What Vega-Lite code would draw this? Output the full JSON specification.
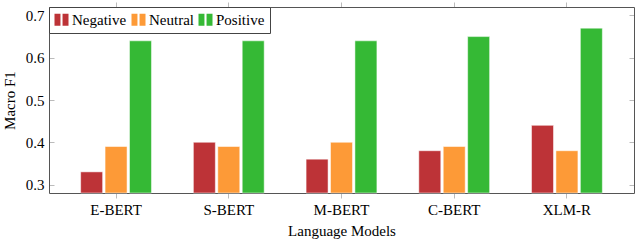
{
  "$schema": "https://vega.github.io/schema/vega-lite/v6.json",
  "width": 585,
  "height": 186,
  "autosize": {"type": "none"},
  "padding": {"left": 49, "top": 7, "right": 6, "bottom": 49},
  "background": "white",
  "config": {
    "view": {"stroke": null},
    "font": "DejaVu Serif",
    "axis": {
      "labelFont": "Times New Roman, Liberation Serif, serif",
      "titleFont": "Times New Roman, Liberation Serif, serif",
      "labelFontSize": 15,
      "titleFontSize": 15,
      "titleFontWeight": "normal",
      "labelFontWeight": "normal",
      "labelColor": "black",
      "titleColor": "black",
      "domainColor": "#555555",
      "domainWidth": 1,
      "tickColor": "#bbbbbb",
      "grid": false
    }
  },
  "data": {
    "values": [
      {"model": "E-BERT", "sentiment": "Negative", "f1": 0.33},
      {"model": "E-BERT", "sentiment": "Neutral", "f1": 0.39},
      {"model": "E-BERT", "sentiment": "Positive", "f1": 0.64},
      {"model": "S-BERT", "sentiment": "Negative", "f1": 0.40},
      {"model": "S-BERT", "sentiment": "Neutral", "f1": 0.39},
      {"model": "S-BERT", "sentiment": "Positive", "f1": 0.64},
      {"model": "M-BERT", "sentiment": "Negative", "f1": 0.36},
      {"model": "M-BERT", "sentiment": "Neutral", "f1": 0.40},
      {"model": "M-BERT", "sentiment": "Positive", "f1": 0.64},
      {"model": "C-BERT", "sentiment": "Negative", "f1": 0.38},
      {"model": "C-BERT", "sentiment": "Neutral", "f1": 0.39},
      {"model": "C-BERT", "sentiment": "Positive", "f1": 0.65},
      {"model": "XLM-R", "sentiment": "Negative", "f1": 0.44},
      {"model": "XLM-R", "sentiment": "Neutral", "f1": 0.38},
      {"model": "XLM-R", "sentiment": "Positive", "f1": 0.67}
    ]
  },
  "layer": [
    {
      "mark": {"type": "bar", "stroke": "white", "strokeOpacity": 0.5, "strokeWidth": 1},
      "encoding": {
        "x": {
          "field": "model", "type": "nominal", "sort": null,
          "scale": {"paddingInner": 0.35, "paddingOuter": 0.27},
          "axis": {"title": "Language Models", "labelAngle": 0, "tickSize": 5, "labelPadding": 4, "titlePadding": 6}
        },
        "xOffset": {
          "field": "sentiment", "type": "nominal",
          "scale": {"paddingInner": 0.1, "paddingOuter": 0.05}
        },
        "y": {
          "field": "f1", "type": "quantitative",
          "scale": {"domain": [0.28, 0.72], "zero": false, "nice": false},
          "axis": {"title": "Macro F1", "values": [0.3, 0.4, 0.5, 0.6, 0.7], "format": ".1f", "tickSize": -5, "labelPadding": 10, "titlePadding": 8}
        },
        "y2": {"datum": 0.28},
        "color": {
          "field": "sentiment", "type": "nominal",
          "scale": {"domain": ["Negative", "Neutral", "Positive"], "range": ["#bd3337", "#fd9a37", "#35b935"]},
          "legend": {
            "title": null,
            "orient": "none",
            "legendX": 0,
            "legendY": 0,
            "direction": "horizontal",
            "labelFont": "Times New Roman, Liberation Serif, serif",
            "labelFontSize": 15,
            "labelColor": "black",
            "symbolType": "M-1,-0.85H-0.15V0.85H-1Z M0.15,-0.85H1V0.85H0.15Z",
            "symbolSize": 196,
            "symbolStrokeWidth": 0,
            "symbolOpacity": 1,
            "labelOffset": 3,
            "columnPadding": 4,
            "padding": 5,
            "fillColor": "white",
            "strokeColor": "#444444"
          }
        }
      }
    },
    {
      "mark": {"type": "bar", "opacity": 0},
      "encoding": {
        "x": {
          "field": "model", "type": "nominal", "sort": null,
          "axis": {"orient": "top", "title": null, "labels": false, "tickSize": 5}
        },
        "y": {
          "field": "f1", "type": "quantitative",
          "axis": {"orient": "right", "title": null, "labels": false, "values": [0.3, 0.4, 0.5, 0.6, 0.7], "tickSize": -5}
        },
        "y2": {"datum": 0.28}
      }
    }
  ],
  "resolve": {"axis": {"x": "independent", "y": "independent"}}
}
